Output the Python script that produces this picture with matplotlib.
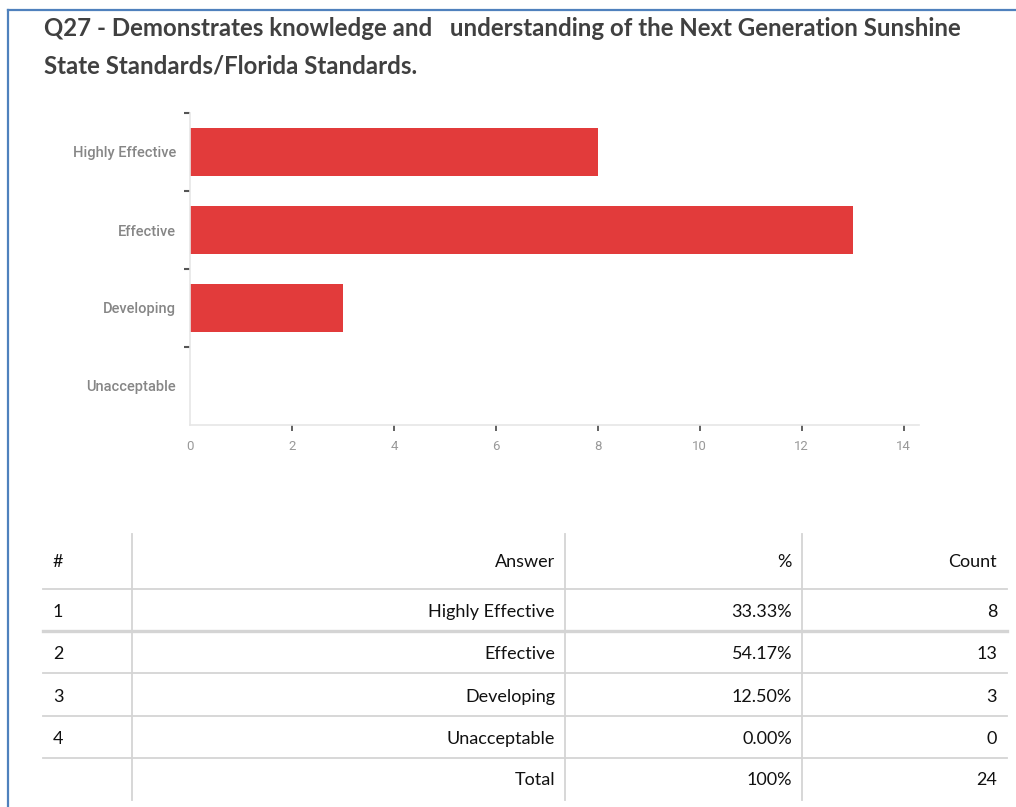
import matplotlib.pyplot as plt
from matplotlib.lines import Line2D

answers = ['Highly Effective', 'Effective', 'Developing', 'Unacceptable']
counts = [8, 13, 3, 0]
x_ticks = [0, 2, 4, 6, 8, 10, 12, 14]

W, H = 1016, 807
fig = plt.figure(figsize=(W / 100, H / 100), dpi=100)
fig.patch.set_facecolor('white')


def fx(px):
    return px / W


def fy(py):
    return 1 - py / H


def hline(y, x0, x1, color='#d4d4d4', lw=1.3):
    fig.add_artist(Line2D([fx(x0), fx(x1)], [fy(y), fy(y)], color=color, lw=lw))


def vline(x, y0, y1, color='#d4d4d4', lw=1.3):
    fig.add_artist(Line2D([fx(x), fx(x)], [fy(y0), fy(y1)], color=color, lw=lw))


# frame around the question block
hline(9.5, 8, W, color='#4f81bd', lw=1.6)
vline(8, 9.5, H, color='#4f81bd', lw=1.6)

title_kw = dict(fontsize=17.3, fontweight='bold', color='#404040', family='Lato', va='center')
fig.text(fx(44), fy(28), 'Q27 - Demonstrates knowledge and   understanding of the Next Generation Sunshine', **title_kw)
fig.text(fx(44), fy(66), 'State Standards/Florida Standards.', **title_kw)

# bar chart
ax = fig.add_axes([fx(190), fy(425), fx(919) - fx(190), fy(113) - fy(425)])
ypos = list(range(len(answers)))
ax.barh(ypos, counts, height=0.61, color='#e23b3b')
ax.set_ylim(len(answers) - 0.5, -0.5)
ax.set_xlim(0, 14.3)

for side in ['top', 'right']:
    ax.spines[side].set_visible(False)
for side in ['left', 'bottom']:
    ax.spines[side].set_color('#e6e6e6')
    ax.spines[side].set_linewidth(1.2)

ax.set_yticks(ypos)
ax.set_yticklabels(answers)
ax.set_yticks([i - 0.5 for i in ypos], minor=True)
ax.tick_params(axis='y', which='major', length=0, pad=10, labelsize=10.5, labelcolor='#868686')
ax.tick_params(axis='y', which='minor', length=4.5, width=1.5, color='#555555', direction='out')
ax.set_xticks(x_ticks)
ax.tick_params(axis='x', length=4.5, width=1.3, color='#555555', pad=6, labelsize=9.5, labelcolor='#999999')
ax.xaxis.get_major_ticks()[0].tick1line.set_visible(False)
for lab in ax.get_xticklabels() + ax.get_yticklabels():
    lab.set_family('Roboto')
for lab in ax.get_yticklabels():
    lab.set_fontweight('medium')

# summary table
total = sum(counts)
rows_y = [612, 654, 697, 739]
vline(132, 534, 800)
vline(565, 534, 800)
vline(802, 534, 800)
for y in [589, 673, 716, 758]:
    hline(y, 43, 1007)
hline(631, 43, 1007, lw=2.4)

cell_kw = dict(fontsize=13, color='#111111', family='Lato', va='center')
fig.text(fx(53), fy(562), '#', ha='left', **cell_kw)
fig.text(fx(555), fy(562), 'Answer', ha='right', **cell_kw)
fig.text(fx(792), fy(562), '%', ha='right', **cell_kw)
fig.text(fx(997), fy(562), 'Count', ha='right', **cell_kw)
for i, (name, c) in enumerate(zip(answers, counts)):
    y = rows_y[i]
    fig.text(fx(53), fy(y), str(i + 1), ha='left', **cell_kw)
    fig.text(fx(555), fy(y), name, ha='right', **cell_kw)
    fig.text(fx(792), fy(y), f'{c / total * 100:.2f}%', ha='right', **cell_kw)
    fig.text(fx(997), fy(y), str(c), ha='right', **cell_kw)
fig.text(fx(555), fy(780), 'Total', ha='right', **cell_kw)
fig.text(fx(792), fy(780), '100%', ha='right', **cell_kw)
fig.text(fx(997), fy(780), str(total), ha='right', **cell_kw)

fig.savefig('out.png', dpi=100)
